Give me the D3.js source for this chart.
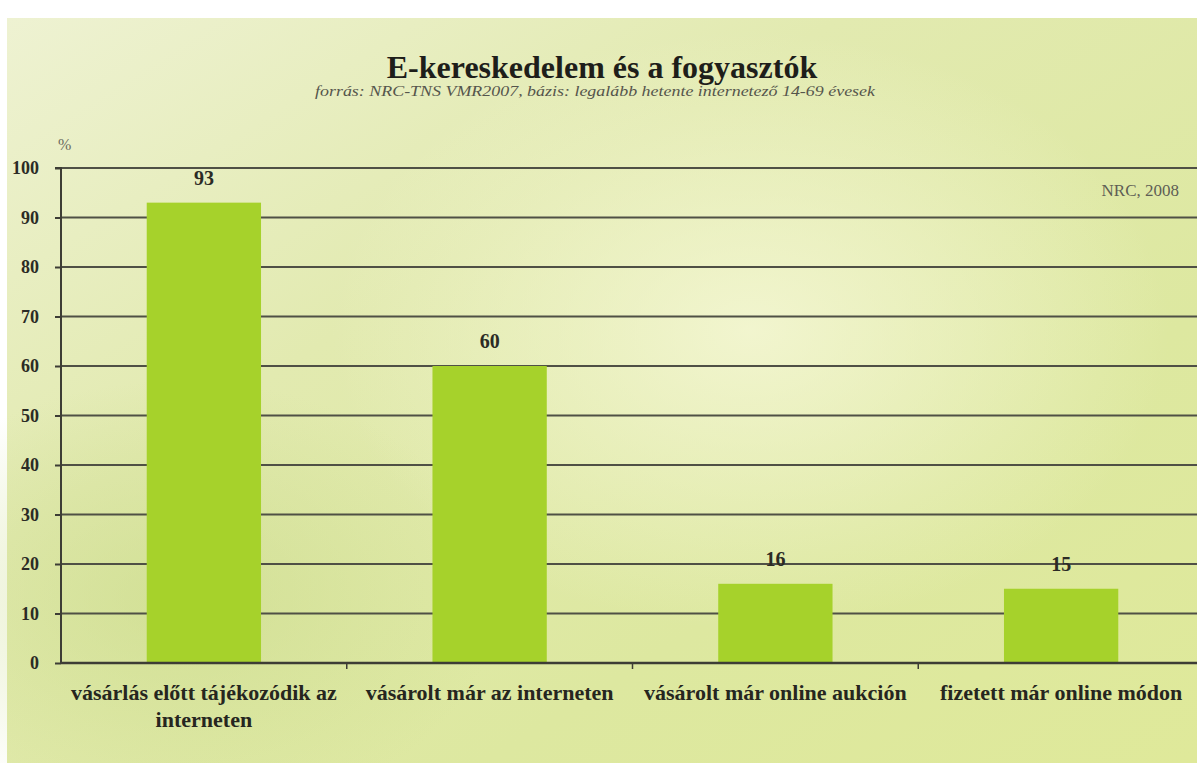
<!DOCTYPE html>
<html>
<head>
<meta charset="utf-8">
<script src="https://cdn.jsdelivr.net/npm/d3@7"></script>
<style>
  body { margin: 0; background: #fff; }
  svg { display: block; }
</style>
</head>
<body>
<div id="chart"></div>
<script>
// data
var categories = [
  ["vásárlás előtt tájékozódik az", "interneten"],
  ["vásárolt már az interneten"],
  ["vásárolt már online aukción"],
  ["fizetett már online módon"]
];
var values = [93, 60, 16, 15];
var yTicks = [0, 10, 20, 30, 40, 50, 60, 70, 80, 90, 100];

var title = "E-kereskedelem és a fogyasztók";
var subtitle = "forrás: NRC-TNS VMR2007, bázis: legalább hetente internetező 14-69 évesek";
var note = "NRC, 2008";

var w = 1197, h = 763;
var plotLeft = 61, plotRight = 1204, plotTop = 168, plotBottom = 663;
var serif = "'Liberation Serif', 'DejaVu Serif', serif";

var svg = d3.select("#chart").append("svg")
  .attr("width", w)
  .attr("height", h);

var defs = svg.append("defs");
var bg = defs.append("linearGradient").attr("id", "bg")
  .attr("x1", 0).attr("y1", 0).attr("x2", 1).attr("y2", 1);
bg.append("stop").attr("offset", "0%").attr("stop-color", "#eef2d2");
bg.append("stop").attr("offset", "35%").attr("stop-color", "#e2eab0");
bg.append("stop").attr("offset", "70%").attr("stop-color", "#dde8a0");
bg.append("stop").attr("offset", "100%").attr("stop-color", "#dfe99a");

var glow = defs.append("radialGradient").attr("id", "glow")
  .attr("cx", 0.5).attr("cy", 0.5).attr("r", 0.5);
glow.append("stop").attr("offset", "0%").attr("stop-color", "#f6f8d8").attr("stop-opacity", 0.8);
glow.append("stop").attr("offset", "100%").attr("stop-color", "#f6f8d8").attr("stop-opacity", 0);

var shade = defs.append("radialGradient").attr("id", "shade")
  .attr("cx", 0.5).attr("cy", 0.5).attr("r", 0.5);
shade.append("stop").attr("offset", "0%").attr("stop-color", "#c9da88").attr("stop-opacity", 0.6);
shade.append("stop").attr("offset", "100%").attr("stop-color", "#c9da88").attr("stop-opacity", 0);

// background panel
svg.append("rect").attr("x", 7).attr("y", 18).attr("width", w - 7).attr("height", h - 18)
  .attr("fill", "url(#bg)");
svg.append("ellipse").attr("cx", 750).attr("cy", 330).attr("rx", 420).attr("ry", 300)
  .attr("fill", "url(#glow)");
svg.append("ellipse").attr("cx", 180).attr("cy", 600).attr("rx", 320).attr("ry", 220)
  .attr("fill", "url(#shade)");

var x = d3.scaleBand()
  .domain(d3.range(values.length))
  .range([plotLeft, plotRight])
  .paddingInner(0.6)
  .paddingOuter(0.3);

var y = d3.scaleLinear().domain([0, 100]).range([plotBottom, plotTop]);

// gridlines
svg.append("g").selectAll("line")
  .data(yTicks.slice(1))
  .enter().append("line")
  .attr("x1", plotLeft).attr("x2", w)
  .attr("y1", function(d){ return y(d); })
  .attr("y2", function(d){ return y(d); })
  .attr("stroke", "#4f5045")
  .attr("stroke-width", 2);

// y axis
var yAxis = d3.axisLeft(y).tickValues(yTicks).tickSize(6).tickPadding(16);
var gy = svg.append("g").attr("transform", "translate(" + plotLeft + ",0)").call(yAxis);
gy.select(".domain").attr("stroke", "#3d3d35").attr("stroke-width", 2).attr("d", "M-6," + y(100) + "H0V" + plotBottom);
gy.selectAll(".tick line").attr("stroke", "#3d3d35").attr("stroke-width", 2);
gy.selectAll(".tick text")
  .attr("font-family", serif).attr("font-size", 18).attr("font-weight", "bold")
  .attr("fill", "#2b2b25");

svg.append("text").attr("x", 58).attr("y", 150)
  .attr("font-family", serif).attr("font-size", 16).attr("fill", "#6b6b60")
  .text("%");

// bars
svg.append("g").selectAll("rect")
  .data(values)
  .enter().append("rect")
  .attr("x", function(d, i){ return x(i); })
  .attr("y", function(d){ return y(d); })
  .attr("width", x.bandwidth())
  .attr("height", function(d){ return plotBottom - y(d); })
  .attr("fill", "#a6d22b");

// value labels
svg.append("g").selectAll("text")
  .data(values)
  .enter().append("text")
  .attr("x", function(d, i){ return x(i) + x.bandwidth() / 2; })
  .attr("y", function(d){ return y(d) - 18; })
  .attr("text-anchor", "middle")
  .attr("font-family", serif).attr("font-size", 20).attr("font-weight", "bold")
  .attr("fill", "#2b2b25")
  .text(function(d){ return d; });

// x axis baseline + ticks at category borders
svg.append("line").attr("x1", plotLeft).attr("x2", w)
  .attr("y1", plotBottom).attr("y2", plotBottom)
  .attr("stroke", "#3d3d35").attr("stroke-width", 2.5);
svg.append("g").selectAll("line")
  .data(d3.range(1, values.length))
  .enter().append("line")
  .attr("x1", function(i){ return x(i) - x.step() * x.paddingInner() / 2; })
  .attr("x2", function(i){ return x(i) - x.step() * x.paddingInner() / 2; })
  .attr("y1", plotBottom).attr("y2", plotBottom + 6)
  .attr("stroke", "#3d3d35").attr("stroke-width", 1.5);

// category labels
var cl = svg.append("g").selectAll("text")
  .data(categories)
  .enter().append("text")
  .attr("x", function(d, i){ return x(i) + x.bandwidth() / 2; })
  .attr("y", 700)
  .attr("text-anchor", "middle")
  .attr("font-family", serif).attr("font-size", 22).attr("font-weight", "bold")
  .attr("fill", "#26261f");
cl.selectAll("tspan")
  .data(function(d){ return d; })
  .enter().append("tspan")
  .attr("x", function(){ return this.parentNode.getAttribute("x"); })
  .attr("dy", function(d, j){ return j === 0 ? 0 : 27; })
  .text(function(d){ return d; });

// titles
svg.append("text").attr("x", 602).attr("y", 78)
  .attr("text-anchor", "middle")
  .attr("font-family", serif).attr("font-size", 32).attr("font-weight", "bold")
  .attr("fill", "#1e1e1a")
  .text(title);
svg.append("text").attr("x", 595).attr("y", 96)
  .attr("text-anchor", "middle")
  .attr("font-family", serif).attr("font-size", 15).attr("font-style", "italic")
  .attr("textLength", 560).attr("lengthAdjust", "spacingAndGlyphs")
  .attr("fill", "#55554c")
  .text(subtitle);

svg.append("text").attr("x", 1179).attr("y", 196)
  .attr("text-anchor", "end")
  .attr("font-family", serif).attr("font-size", 17).attr("fill", "#5e5e55")
  .text(note);
</script>
</body>
</html>
